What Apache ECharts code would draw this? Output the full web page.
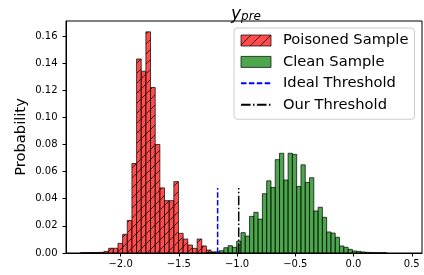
<!DOCTYPE html>
<html>
<head>
<meta charset="utf-8">
<script src="https://cdn.jsdelivr.net/npm/echarts@6/dist/echarts.min.js"></script>
<style>
  html, body { margin: 0; padding: 0; background: #fff; }
  #chart { width: 424px; height: 275px; }
</style>
</head>
<body>
<div id="chart"></div>
<script>
// histogram bins
var redStart = -2.343;
var redBinWidth = 0.04;
var redHeights = [0.0003, 0.0003, 0.0004, 0.0004, 0.0005, 0.0012, 0.0035, 0.0035, 0.0071, 0.0138,
    0.024, 0.066, 0.143, 0.134, 0.163, 0.122, 0.080, 0.048, 0.0386, 0.0386,
    0.0526, 0.0145, 0.0103, 0.0059, 0.0034, 0.0103, 0.0052, 0.0022, 0.0008, 0.0005];

var greenStart = -1.261;
var greenBinWidth = 0.0368;
var greenHeights = [0.0003, 0.0005, 0.0008, 0.0017, 0.0039, 0.0054, 0.0042, 0.0087, 0.015, 0.0125,
    0.027, 0.030, 0.025, 0.0437, 0.0532, 0.0483, 0.0688, 0.0735, 0.0538, 0.0735,
    0.0727, 0.049, 0.065, 0.052, 0.0555, 0.031, 0.0337, 0.0263, 0.0155, 0.0147,
    0.0116, 0.0052, 0.0042, 0.0027, 0.0015, 0.0012, 0.0008, 0.0005, 0.0004, 0.0003,
    0.0002, 0.0002];

var idealThreshold = -1.167;
var ourThreshold = -0.986;
var thresholdTop = 0.048;

var xTicks = [-2.0, -1.5, -1.0, -0.5, 0.0, 0.5];
var yTicks = [0.00, 0.02, 0.04, 0.06, 0.08, 0.10, 0.12, 0.14, 0.16];

var FONT = '"DejaVu Sans", sans-serif';

// hatch tile for the poisoned bars
function makeHatch() {
    var c = document.createElement('canvas');
    c.width = 10;
    c.height = 10;
    var g = c.getContext('2d');
    g.fillStyle = 'rgba(255, 0, 0, 0.7)';
    g.fillRect(0, 0, 10, 10);
    g.strokeStyle = 'rgba(0, 0, 0, 0.75)';
    g.lineWidth = 1;
    g.beginPath();
    g.moveTo(-1, 11);
    g.lineTo(11, -1);
    g.stroke();
    return c;
}
var hatch = { image: makeHatch(), repeat: 'repeat' };

function toBins(start, width, heights) {
    return heights.map(function(h, i) {
        return [start + i * width, start + (i + 1) * width, h];
    });
}

function histRender(fill) {
    return function(params, api) {
        var p0 = api.coord([api.value(0), api.value(2)]);
        var p1 = api.coord([api.value(1), 0]);
        return {
            type: 'rect',
            shape: { x: p0[0], y: p0[1], width: p1[0] - p0[0], height: p1[1] - p0[1] },
            style: { fill: fill, stroke: 'rgba(0, 0, 0, 0.7)', lineWidth: 1 }
        };
    };
}

function minusFmt(v) {
    return v < 0 ? '\u2212' + Math.abs(v).toFixed(1) : v.toFixed(1);
}

var chart = echarts.init(document.getElementById('chart'));

var option = {
    animation: false,
    title: {
        text: '{y|y}{s|pre}',
        left: 226,
        top: 1,
        textStyle: {
            fontWeight: 'normal',
            rich: {
                y: { fontFamily: FONT, fontStyle: 'italic', fontWeight: 'normal', fontSize: 17, color: '#000', verticalAlign: 'bottom' },
                s: { fontFamily: FONT, fontStyle: 'italic', fontWeight: 'normal', fontSize: 12, color: '#000', verticalAlign: 'bottom' }
            }
        }
    },
    grid: {
        left: 66,
        right: 2,
        top: 21,
        bottom: 22,
        show: true,
        borderColor: '#000',
        borderWidth: 1
    },
    legend: {
        orient: 'vertical',
        left: 234,
        top: 28,
        padding: [5, 6, 7, 6],
        itemWidth: 30,
        itemHeight: 11,
        itemGap: 6.4,
        backgroundColor: 'rgba(255, 255, 255, 0.8)',
        borderColor: '#cccccc',
        borderWidth: 1,
        borderRadius: 3,
        textStyle: {
            fontFamily: FONT,
            fontSize: 14.7,
            lineHeight: 15,
            color: '#000',
            padding: [0, 0, 0, 7]
        },
        data: [
            { name: 'Poisoned Sample', icon: 'rect',
              itemStyle: { color: hatch, borderColor: 'rgba(0, 0, 0, 0.7)', borderWidth: 1 } },
            { name: 'Clean Sample', icon: 'rect',
              itemStyle: { color: 'rgba(0, 128, 0, 0.7)', borderColor: 'rgba(0, 0, 0, 0.7)', borderWidth: 1 } },
            { name: 'Ideal Threshold', itemStyle: { color: 'rgba(0, 0, 0, 0)', borderWidth: 0 } },
            { name: 'Our Threshold', itemStyle: { color: 'rgba(0, 0, 0, 0)', borderWidth: 0 } }
        ]
    },
    xAxis: {
        type: 'value',
        min: -2.469,
        max: 0.588,
        axisLine: { onZero: false, lineStyle: { color: '#000', width: 1 } },
        axisTick: { customValues: xTicks, length: 3.5, lineStyle: { color: '#000' } },
        axisLabel: {
            customValues: xTicks,
            formatter: minusFmt,
            margin: 6,
            fontFamily: FONT,
            fontSize: 10,
            color: '#000'
        },
        splitLine: { show: false }
    },
    yAxis: {
        type: 'value',
        min: 0,
        max: 0.171,
        name: 'Probability',
        nameLocation: 'middle',
        nameGap: 37,
        nameMoveOverlap: false,
        nameTextStyle: { fontFamily: FONT, fontSize: 14.7, color: '#000' },
        axisLine: { show: true, onZero: false, lineStyle: { color: '#000', width: 1 } },
        axisTick: { show: true, customValues: yTicks, length: 3.5, lineStyle: { color: '#000' } },
        axisLabel: {
            customValues: yTicks,
            formatter: function(v) { return v.toFixed(2); },
            margin: 8.5,
            fontFamily: FONT,
            fontSize: 10,
            color: '#000'
        },
        splitLine: { show: false }
    },
    series: [
        {
            name: 'Poisoned Sample',
            type: 'custom',
            itemStyle: { color: hatch },
            renderItem: histRender(hatch),
            encode: { x: [0, 1], y: 2 },
            data: toBins(redStart, redBinWidth, redHeights),
            z: 2
        },
        {
            name: 'Clean Sample',
            type: 'custom',
            itemStyle: { color: 'rgba(0, 128, 0, 0.7)' },
            renderItem: histRender('rgba(0, 128, 0, 0.7)'),
            encode: { x: [0, 1], y: 2 },
            data: toBins(greenStart, greenBinWidth, greenHeights),
            z: 3
        },
        {
            name: 'Ideal Threshold',
            type: 'line',
            symbol: 'none',
            lineStyle: { color: '#0000ff', width: 1.5, type: [5.5, 2.4] },
            itemStyle: { color: '#0000ff' },
            data: [[idealThreshold, 0], [idealThreshold, thresholdTop]],
            z: 4
        },
        {
            name: 'Our Threshold',
            type: 'line',
            symbol: 'none',
            lineStyle: { color: '#000', width: 1.5, type: [9.6, 2.4, 1.5, 2.4] },
            itemStyle: { color: '#000' },
            data: [[ourThreshold, 0], [ourThreshold, thresholdTop]],
            z: 4
        }
    ]
};

chart.setOption(option);
</script>
</body>
</html>
